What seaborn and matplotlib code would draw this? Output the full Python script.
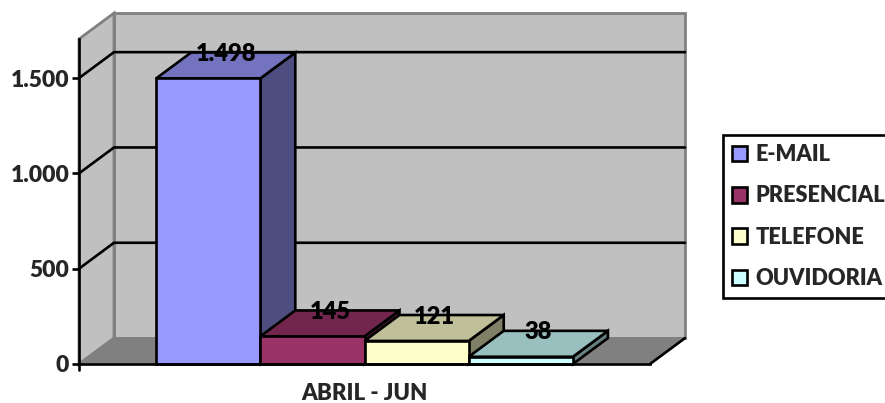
import pandas as pd
import seaborn as sns
import matplotlib.pyplot as plt
from matplotlib.patches import Polygon
from matplotlib.colors import to_rgb
from matplotlib.ticker import FuncFormatter

canais = ["E-MAIL", "PRESENCIAL", "TELEFONE", "OUVIDORIA"]
valores = [1498, 145, 121, 38]
periodo = ["ABRIL - JUN"]
y_ticks = [0, 500, 1000, 1500]
cores = ["#9999FF", "#993366", "#FFFFCC", "#CCFFFF"]

# size of the fake 3d depth, in data units
DEPTH_X = 35 / 571
DEPTH_Y = 136
Y_TOP = 1705
LW = 1.9


def shade(cor, f):
    return tuple(c * f for c in to_rgb(cor))


def poly(ax, pts, face, edge="black", lw=LW, z=1):
    ax.add_patch(Polygon(pts, closed=True, facecolor=face, edgecolor=edge,
                         linewidth=lw, zorder=z, clip_on=False, joinstyle="miter"))


def fmt(v, pos=None):
    return f"{int(v):,}".replace(",", ".")


if __name__ == "__main__":
    sns.set_style("ticks")
    plt.rcParams['font.family'] = ['Lato', 'DejaVu Sans']
    plt.rcParams['font.weight'] = 800

    df = pd.DataFrame({"periodo": periodo * len(canais), "canal": canais, "valor": valores})

    fig = plt.figure(figsize=(8.85, 4.03), dpi=100)
    ax = fig.add_axes([79 / 885, (403 - 364) / 403, 571 / 885, 325 / 403])
    sns.barplot(data=df, x="periodo", y="valor", hue="canal", palette=cores,
                width=0.73, edgecolor="black", linewidth=LW, saturation=1, ax=ax)
    ax.set_xlim(-0.5, 0.5)
    ax.set_ylim(0, Y_TOP)
    ax.patch.set_visible(False)

    x0, x1 = ax.get_xlim()
    wall_top = Y_TOP + DEPTH_Y

    # walls and floor
    poly(ax, [(x0 + DEPTH_X, DEPTH_Y), (x1 + DEPTH_X, DEPTH_Y), (x1 + DEPTH_X, wall_top),
              (x0 + DEPTH_X, wall_top)], "#C0C0C0", "#808080", 2, 0.1)
    poly(ax, [(x0, 0), (x0 + DEPTH_X, DEPTH_Y), (x0 + DEPTH_X, wall_top), (x0, Y_TOP)],
         "#C0C0C0", "#808080", 2, 0.2)
    poly(ax, [(x0, 0), (x1, 0), (x1 + DEPTH_X, DEPTH_Y), (x0 + DEPTH_X, DEPTH_Y)],
         "#808080", "#808080", 1.5, 0.3)
    ax.plot([x1, x1 + DEPTH_X], [0, DEPTH_Y], color="black", lw=LW, zorder=0.4, clip_on=False)

    # gridlines run along the left wall then the back wall
    for t in y_ticks[1:]:
        ax.plot([x0, x0 + DEPTH_X, x1 + DEPTH_X], [t, t + DEPTH_Y, t + DEPTH_Y],
                color="black", lw=LW, zorder=0.5, clip_on=False, solid_joinstyle="miter")

    # bar faces
    z = 2
    for container, cor in zip(ax.containers, cores):
        for bar in container:
            l, r = bar.get_x(), bar.get_x() + bar.get_width()
            h = bar.get_height()
            poly(ax, [(r, 0), (r + DEPTH_X, DEPTH_Y), (r + DEPTH_X, h + DEPTH_Y), (r, h)],
                 shade(cor, 0.5), z=z)
            poly(ax, [(l, h), (r, h), (r + DEPTH_X, h + DEPTH_Y), (l + DEPTH_X, h + DEPTH_Y)],
                 shade(cor, 0.75), z=z)
            bar.set_zorder(z + 0.1)
            bar.set_clip_on(False)
            ax.text(bar.get_x() + bar.get_width() / 2 + DEPTH_X / 2, h + DEPTH_Y - 8, fmt(h),
                    ha="center", va="center", fontsize=17, fontweight=800,
                    color="black", zorder=10, clip_on=False)
            z += 1

    # small tail of the value axis below zero
    ax.plot([x0, x0], [0, -30], color="black", lw=LW, zorder=20, clip_on=False)

    ax.set_yticks(y_ticks)
    ax.yaxis.set_major_formatter(FuncFormatter(fmt))
    ax.tick_params(axis="y", length=5, width=LW, labelsize=16.5, color="black", pad=2)
    ax.tick_params(axis="x", length=0, labelsize=16, pad=14)
    ax.set_xlabel("")
    ax.set_ylabel("")
    sns.despine(ax=ax, top=True, right=True)
    for s in ["left", "bottom"]:
        ax.spines[s].set_linewidth(LW)
        ax.spines[s].set_color("black")
        ax.spines[s].set_zorder(20)

    leg = ax.legend(loc="center left", bbox_to_anchor=(723 / 885, (403 - 216.5) / 403),
                    bbox_transform=fig.transFigure, fancybox=False, framealpha=1,
                    edgecolor="black", fontsize=15.7, labelspacing=0.93, handlelength=0.72,
                    handleheight=0.72, handletextpad=0.36, borderpad=0.4, borderaxespad=0)
    leg.get_frame().set_linewidth(LW)
    for h in leg.get_patches():
        h.set_linewidth(LW)

    fig.savefig("out.png", dpi=100)
